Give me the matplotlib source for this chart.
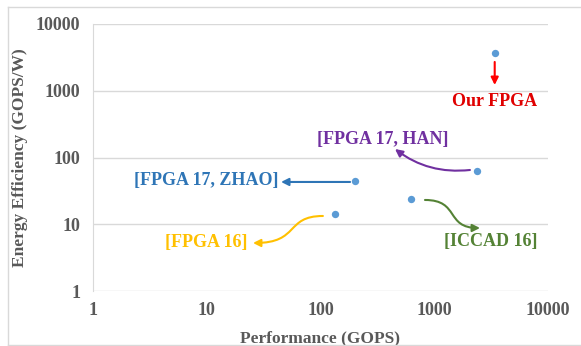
import matplotlib
matplotlib.use('Agg')
import matplotlib.pyplot as plt
from matplotlib.patches import FancyArrowPatch
from matplotlib.path import Path
from matplotlib.lines import Line2D

plt.rcParams['font.family'] = ['Liberation Serif', 'DejaVu Serif']
plt.rcParams['font.weight'] = 'bold'
plt.rcParams['axes.labelweight'] = 'bold'

# data: performance (GOPS) vs energy efficiency (GOPS/W)
names = ['Our FPGA', '[FPGA 17, HAN]', '[FPGA 17, ZHAO]', '[ICCAD 16]', '[FPGA 16]']
perf = [3400, 2400, 200, 620, 133]
eff = [3700, 62, 44, 24, 14]

# label positions and colours
label_x = [3400, 350, 10, 3150, 9.9]
label_y = [680, 183, 46, 5.6, 5.4]
label_c = ['#E00000', '#7030A0', '#2E75B6', '#548235', '#FFC000']

grey = '#595959'
fig = plt.figure(figsize=(5.81, 3.46), dpi=100)
ax = fig.add_axes([93 / 581, 1 - 291 / 346, 455 / 581, 267 / 346])

ax.scatter(perf, eff, s=28, c='#5B9BD5', zorder=5, linewidths=0)

ax.set_xscale('log')
ax.set_yscale('log')
ax.set_xlim(1, 10000)
ax.set_ylim(1, 10000)
ax.set_xticks([1, 10, 100, 1000, 10000])
ax.set_xticklabels(['1', '10', '100', '1000', '10000'])
ax.set_yticks([1, 10, 100, 1000, 10000])
ax.set_yticklabels(['1', '10', '100', '1000', '10000'])
ax.minorticks_off()
ax.tick_params(length=0, labelsize=13, colors=grey)
ax.tick_params(axis='x', pad=8)
ax.tick_params(axis='y', pad=9)
ax.yaxis.grid(True, color='#D9D9D9', lw=1)
ax.set_axisbelow(True)
for s in ['top', 'right', 'bottom']:
    ax.spines[s].set_visible(False)
ax.spines['left'].set_color('#D9D9D9')
ax.set_xlabel('Performance (GOPS)', fontsize=12.5, color=grey, labelpad=8, fontweight='bold')
ax.set_ylabel('Energy Efficiency (GOPS/W)', fontsize=12.5, color=grey, labelpad=6, fontweight='bold')

for n, x, y, c in zip(names, label_x, label_y, label_c):
    ax.text(x, y, n, color=c, fontsize=13, ha='center', va='center', fontweight='bold')

# arrows
def arrow(path_pts, codes, color, **kw):
    p = FancyArrowPatch(path=Path(path_pts, codes), arrowstyle='-|>', mutation_scale=11,
                        color=color, lw=1.5, transform=ax.transData, **kw)
    ax.add_patch(p)

# Our FPGA: straight down
ax.annotate('', xy=(3400, 1220), xytext=(3400, 2700),
            arrowprops=dict(arrowstyle='-|>', color='#FF0000', lw=1.5, mutation_scale=11,
                            shrinkA=0, shrinkB=0))
# HAN: curved up-left
ax.annotate('', xy=(452, 134), xytext=(2060, 65),
            arrowprops=dict(arrowstyle='-|>', color='#7030A0', lw=1.5, mutation_scale=11,
                            shrinkA=0, shrinkB=0, connectionstyle='arc3,rad=-0.2'))
# ZHAO: straight left
ax.annotate('', xy=(45, 43), xytext=(182, 43),
            arrowprops=dict(arrowstyle='-|>', color='#2E75B6', lw=1.5, mutation_scale=11,
                            shrinkA=0, shrinkB=0))
c4 = [Path.MOVETO, Path.CURVE4, Path.CURVE4, Path.CURVE4]
# FPGA 16: S-curve
arrow([(105, 13.3), (48.7, 13.3), (66, 5.24), (25.5, 5.24)], c4, '#FFC000')
# ICCAD 16: S-curve
arrow([(829, 23.1), (1684, 23.1), (1243, 8.79), (2525, 8.79)], c4, '#548235')

# chart frame
fc = '#D9D9D9'
fig.add_artist(Line2D([8 / 581, 1], [1 - 7 / 346, 1 - 7 / 346], color=fc, lw=1, transform=fig.transFigure))
fig.add_artist(Line2D([8 / 581, 8 / 581], [1 / 346, 1 - 7 / 346], color=fc, lw=1, transform=fig.transFigure))
fig.add_artist(Line2D([8 / 581, 1], [1 / 346, 1 / 346], color=fc, lw=1, transform=fig.transFigure))

fig.savefig('out.png', dpi=100, facecolor='white')
